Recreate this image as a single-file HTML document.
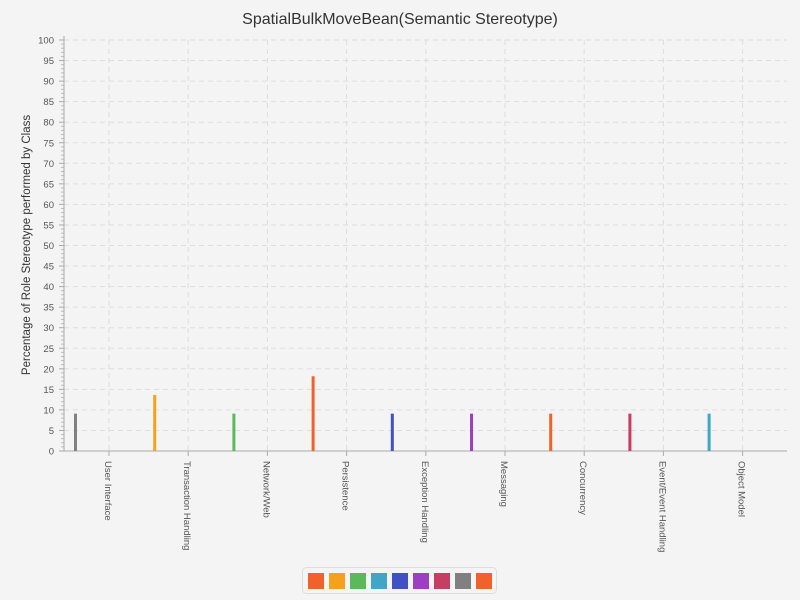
<!DOCTYPE html>
<html><head><meta charset="utf-8"><style>
html,body{margin:0;padding:0;width:800px;height:600px;overflow:hidden;background:#f4f4f4;font-family:"Liberation Sans",sans-serif}
svg{display:block}
svg text{font-family:"Liberation Sans",sans-serif}
</style></head><body>
<svg id="c" width="800" height="600">
<rect width="800" height="600" fill="#f4f4f4"/>
<text x="400" y="24" text-anchor="middle" font-size="16" fill="#333">SpatialBulkMoveBean(Semantic Stereotype)</text>
<text transform="translate(30,245) rotate(-90)" text-anchor="middle" font-size="11.5" fill="#333">Percentage of Role Stereotype performed by Class</text>
<g id="grid"></g><g id="axes"></g><g id="bars"></g><g id="legend"></g>
</svg>
<script>
const categories=["User Interface","Transaction Handling","Network/Web","Persistence","Exception Handling","Messaging","Concurrency","Event/Event Handling","Object Model"];
const values=[9.09,13.64,9.09,18.18,9.09,9.09,9.09,9.09,9.09];
const barColors=["#808080","#f5a11e","#5cb85c","#f0612c","#3f51c4","#9b3fc4","#f0612c","#c43f63","#40a6c4"];
const legendColors=["#f0612c","#f5a11e","#5cb85c","#40a6c4","#3f51c4","#9b3fc4","#c43f63","#808080","#f0612c"];
const yTicks=[0,5,10,15,20,25,30,35,40,45,50,55,60,65,70,75,80,85,90,95,100];
const NS="http://www.w3.org/2000/svg";
const X0=64,X1=787,Y0=451,Y1=40;
const y=v=>Y0-(v/100)*(Y0-Y1);
const x=i=>109+i*79.2;
function mk(t,a,p){const e=document.createElementNS(NS,t);for(const k in a)e.setAttribute(k,a[k]);p.appendChild(e);return e;}
const grid=document.getElementById('grid'),axes=document.getElementById('axes'),bars=document.getElementById('bars'),leg=document.getElementById('legend');
yTicks.forEach(v=>{
 if(v>0){const l=mk('line',{x1:X0,x2:X1,y1:y(v),y2:y(v),stroke:'#ddd','stroke-dasharray':'5,4'},grid);
 
 }
 const t=mk('text',{x:54,y:y(v)+3.5,'text-anchor':'end','font-size':'9.5',fill:'#555'},axes);t.textContent=v;
 
 
 mk('line',{x1:X0-5,x2:X0,y1:y(v),y2:y(v),stroke:'#aaa'},axes);
});
for(let v=1;v<100;v++){if(v%5)mk('line',{x1:X0-3,x2:X0,y1:y(v),y2:y(v),stroke:'#bbb'},axes);}
categories.forEach((c,i)=>{
 const g=mk('line',{x1:x(i),x2:x(i),y1:Y1,y2:Y0,stroke:'#ddd','stroke-dasharray':'5,4'},grid);
 
 
 mk('line',{x1:x(i),x2:x(i),y1:Y0,y2:Y0+5,stroke:'#aaa'},axes);
 const t=mk('text',{transform:`translate(${x(i)-4},${Y0+10}) rotate(90)`,'font-size':'9.5',fill:'#555'},axes);t.textContent=c;
 
 
 const b=mk('rect',{x:x(i)-35,y:y(values[i]),width:3,height:Y0-y(values[i]),fill:barColors[i]},bars);
 
 
});
mk('line',{x1:X0,x2:X0,y1:Y1-4,y2:Y0,stroke:'#aaa'},axes);
mk('line',{x1:X0,x2:X1,y1:Y0,y2:Y0,stroke:'#aaa'},axes);
const lb=mk('rect',{x:302.5,y:567.5,width:194,height:26,rx:4,fill:'#f4f4f4',stroke:'#ddd'},leg);


legendColors.forEach((c,i)=>{
 const r=mk('rect',{x:308+i*21,y:573,width:16,height:16,fill:c},leg);
 
 
});
</script>
</body></html>
